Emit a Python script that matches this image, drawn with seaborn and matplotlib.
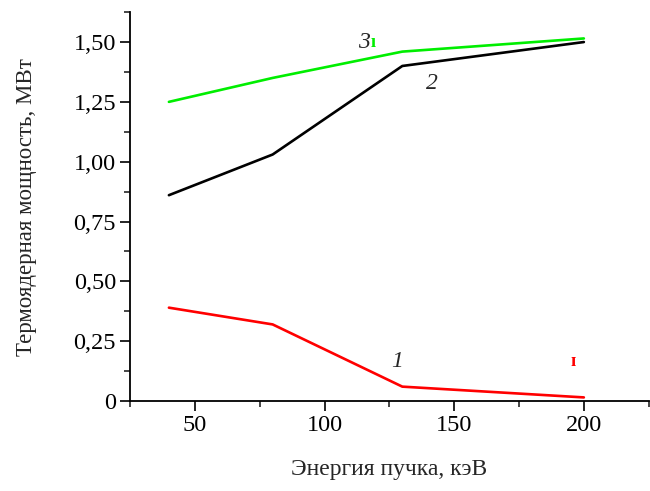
import matplotlib
matplotlib.use("Agg")
import matplotlib.pyplot as plt
from matplotlib.ticker import MultipleLocator, FuncFormatter
import seaborn as sns
import pandas as pd

energy = [40, 80, 130, 200]
power_1 = [0.39, 0.32, 0.06, 0.015]
power_2 = [0.86, 1.03, 1.40, 1.50]
power_3 = [1.25, 1.35, 1.46, 1.515]
series_names = ["1", "2", "3"]
series_colors = ["#ff0000", "#000000", "#00ee00"]

df = pd.DataFrame({
    "E": energy * 3,
    "P": power_1 + power_2 + power_3,
    "s": [series_names[0]] * 4 + [series_names[1]] * 4 + [series_names[2]] * 4,
})

sns.set_style("ticks")
plt.rcParams["font.family"] = ["Liberation Serif", "DejaVu Serif"]

fig = plt.figure(figsize=(6.5, 4.91), dpi=100)
ax = fig.add_axes([0.2, 0.1833, 0.798, 0.792])
sns.lineplot(data=df, x="E", y="P", hue="s", palette=dict(zip(series_names, series_colors)),
             linewidth=1.9, legend=False, ax=ax, estimator=None, sort=False)

ax.set_xlim(25, 225)
ax.set_ylim(0, 1.625)
ax.xaxis.set_major_locator(MultipleLocator(50))
ax.xaxis.set_minor_locator(MultipleLocator(25))
ax.yaxis.set_major_locator(MultipleLocator(0.25))
ax.yaxis.set_minor_locator(MultipleLocator(0.125))

def yfmt(v, pos):
    if abs(v) < 1e-9:
        return "0"
    return f"{v:.2f}".replace(".", ",")
ax.yaxis.set_major_formatter(FuncFormatter(yfmt))

for sp in ["top", "right"]:
    ax.spines[sp].set_visible(False)
for sp in ["left", "bottom"]:
    ax.spines[sp].set_linewidth(1.3)
    ax.spines[sp].set_color("black")

ax.tick_params(which="major", direction="out", length=7, width=1.2, labelsize=17.5, colors="black", pad=3)
ax.tick_params(which="minor", direction="out", length=4, width=1.2)

ax.set_xlabel("Энергия пучка, кэВ", fontsize=17, labelpad=17)
ax.set_ylabel("Термоядерная мощность, МВт", fontsize=16.5, labelpad=26)

ax.text(115.4, 1.50, "3", fontsize=17, style="italic", ha="center", va="center")
ax.text(118.8, 1.50, "ı", fontsize=13, fontweight="bold", color="#00ee00", ha="center", va="center")
ax.text(141.5, 1.328, "2", fontsize=17, style="italic", ha="center", va="center")
ax.text(128, 0.167, "1", fontsize=17, style="italic", ha="center", va="center")
ax.text(196, 0.167, "ɪ", fontsize=13, fontweight="bold", color="#ff0000", ha="center", va="center")

fig.savefig("out.png", dpi=100)
